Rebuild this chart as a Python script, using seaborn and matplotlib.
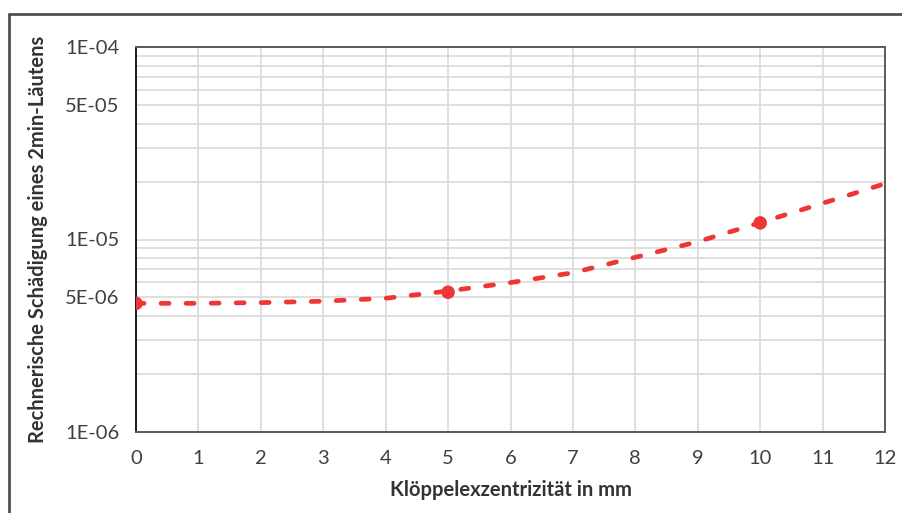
import numpy as np
import pandas as pd
import matplotlib
matplotlib.use("Agg")
import matplotlib.pyplot as plt
from matplotlib.lines import Line2D
from matplotlib.ticker import FixedLocator, FixedFormatter, NullFormatter
import seaborn as sns

# data
points_x = [0, 5, 10]
points_y = [4.66e-6, 5.32e-6, 1.22e-5]

curve_x = [0, 1, 2, 3, 4, 5, 6, 7, 8, 9, 10, 11, 12]
curve_y = [4.66e-6, 4.66e-6, 4.70e-6, 4.78e-6, 4.95e-6, 5.40e-6, 5.97e-6,
           6.72e-6, 8.08e-6, 9.74e-6, 1.223e-5, 1.542e-5, 1.95e-5]

ytick_vals = [1e-6, 5e-6, 1e-5, 5e-5, 1e-4]
ytick_labels = ["1E-06", "5E-06", "1E-05", "5E-05", "1E-04"]
xtick_vals = list(range(0, 13))

xlabel = "Klöppelexzentrizität in mm"
ylabel = "Rechnerische Schädigung eines 2min-Läutens"

sns.set_style("white")
plt.rcParams['font.family'] = ['Lato', 'DejaVu Sans']

red = "#ee3636"
grid_col = "#d9d9d9"

fig = plt.figure(figsize=(9.03, 5.13), dpi=100)
ax = fig.add_axes([136/903, 1-432/513, (885-136)/903, (432-47)/513])

curve = pd.DataFrame({"x": curve_x, "y": curve_y})
pts = pd.DataFrame({"x": points_x, "y": points_y})

sns.lineplot(data=curve, x="x", y="y", ax=ax, color=red, linewidth=3.4,
             zorder=3)
ax.lines[-1].set_dashes([1.7, 3.6])
ax.lines[-1].set_dash_capstyle("round")
sns.scatterplot(data=pts, x="x", y="y", ax=ax, color=red, s=95,
                edgecolor="none", zorder=4)

ax.set_yscale("log")
ax.set_xlim(0, 12)
ax.set_ylim(1e-6, 1e-4)

# minor y positions 2..9 of each decade
minor_y = [m * 10.0**e for e in (-6, -5) for m in range(2, 10) if m != 5]
ax.yaxis.set_major_locator(FixedLocator(ytick_vals))
ax.yaxis.set_major_formatter(FixedFormatter(ytick_labels))
ax.yaxis.set_minor_locator(FixedLocator(minor_y))
ax.yaxis.set_minor_formatter(NullFormatter())

ax.xaxis.set_major_locator(FixedLocator(xtick_vals))
ax.xaxis.set_minor_locator(FixedLocator([v + 0.5 for v in xtick_vals[:-1]]))

ax.grid(True, which="both", axis="y", color=grid_col, linewidth=1.2)
ax.grid(True, which="major", axis="x", color=grid_col, linewidth=1.2)
ax.set_axisbelow(True)

for side in ["top", "right", "bottom"]:
    ax.spines[side].set_color("#5a5a5a")
    ax.spines[side].set_linewidth(1.4)
ax.spines["left"].set_color("#1a1a1a")
ax.spines["left"].set_linewidth(1.4)

ax.tick_params(axis="both", which="major", direction="out", length=7,
               width=1.4, color="#333333", labelsize=14.5,
               labelcolor="#404040")
ax.tick_params(axis="both", which="minor", direction="out", length=4,
               width=1.4, color="#333333")
ax.tick_params(axis="x", which="major", pad=6)
ax.tick_params(axis="y", which="major", pad=5)

ax.set_xlabel(xlabel, fontsize=14.5, fontweight="bold", color="#333333",
              labelpad=9)
ax.set_ylabel(ylabel, fontsize=14.5, fontweight="bold", color="#333333",
              labelpad=12)

# outer frame of the picture
fig.add_artist(Line2D([9/903, 1.0], [1-14/513, 1-14/513],
                      transform=fig.transFigure, color="#505050", lw=2))
fig.add_artist(Line2D([9/903, 9/903], [0, 1-14/513],
                      transform=fig.transFigure, color="#505050", lw=2))

fig.savefig("out.png", dpi=100)
